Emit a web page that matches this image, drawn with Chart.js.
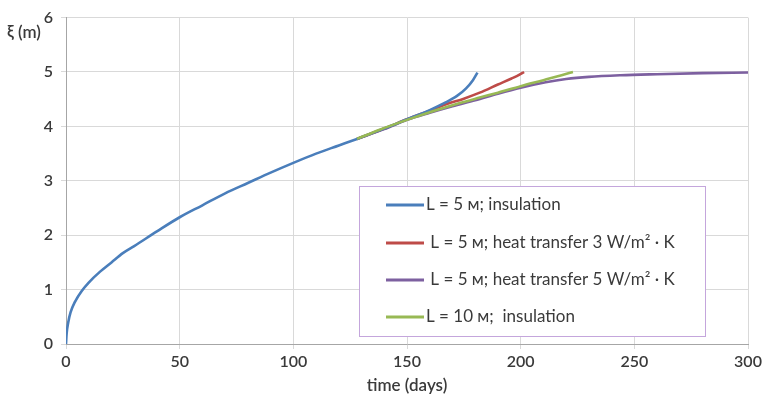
<!DOCTYPE html>
<html>
<head>
<meta charset="utf-8">
<script src="https://cdn.jsdelivr.net/npm/chart.js@4/dist/chart.umd.min.js"></script>
<style>
html,body{margin:0;padding:0;background:#fff;}
#wrap{width:763px;height:396px;position:relative;}
</style>
</head>
<body>
<div id="wrap"><canvas id="c"></canvas></div>
<script>
// ---- data ----
const seriesLabels = [
  "L = 5 м; insulation",
  " L = 5 м; heat transfer 3 W/m\u00b2 \u00b7 K",
  " L = 5 м; heat transfer 5 W/m\u00b2 \u00b7 K",
  "L = 10 м;  insulation"
];
const blueX = [0, 0.3, 1, 2, 4, 7, 10, 15, 20, 25, 30, 40, 50, 60, 70, 80, 90, 100, 110, 120, 128, 140, 150, 160, 167, 172, 176, 179, 181];
const blueY = [0, 0.2, 0.4, 0.58, 0.78, 0.98, 1.13, 1.33, 1.5, 1.67, 1.8, 2.07, 2.33, 2.55, 2.77, 2.96, 3.15, 3.33, 3.5, 3.65, 3.77, 3.96, 4.13, 4.3, 4.44, 4.56, 4.7, 4.85, 4.99];
const redX = [128, 140, 150, 160, 167.5, 175, 182, 190, 196, 199.5, 201.5];
const redY = [3.77, 3.96, 4.13, 4.29, 4.41, 4.51, 4.62, 4.77, 4.88, 4.95, 5.0];
const purpleX = [128, 140, 150, 160, 170, 180, 190, 200, 211, 220, 230, 244, 260, 280, 300];
const purpleY = [3.77, 3.95, 4.12, 4.25, 4.37, 4.48, 4.60, 4.71, 4.81, 4.87, 4.91, 4.94, 4.96, 4.98, 4.99];
const greenX = [128, 138, 150, 160, 170, 182, 190, 200, 210, 218, 223];
const greenY = [3.77, 3.94, 4.12, 4.26, 4.39, 4.53, 4.62, 4.74, 4.85, 4.94, 5.0];
const xTickValues = [0, 50, 100, 150, 200, 250, 300];
const yTickValues = [0, 1, 2, 3, 4, 5, 6];
const xTitle = "time (days)";
const yTitle = "\u03be (m)";

const colors = ["#4a7ebb", "#be4b48", "#7d60a0", "#98b954"];
const FONT = "Lato, 'Open Sans', sans-serif";
const TEXT = "#3a3a3a";

function pts(xs, ys){ return xs.map((x,i)=>({x:x, y:ys[i]})); }

const datasets = [
  {label: seriesLabels[0], data: pts(blueX, blueY), borderColor: colors[0], order: 1},
  {label: seriesLabels[1], data: pts(redX, redY), borderColor: colors[1], order: 2},
  {label: seriesLabels[2], data: pts(purpleX, purpleY), borderColor: colors[2], order: 3},
  {label: seriesLabels[3], data: pts(greenX, greenY), borderColor: colors[3], order: 0}
].map(d => Object.assign(d, {borderWidth: 2.6, pointRadius: 0, tension: 0.4, cubicInterpolationMode: 'monotone', fill: false}));

const extras = {
  id: 'extras',
  afterDraw(chart){
    const ctx = chart.ctx;
    ctx.save();
    // y title
    ctx.font = "600 17px " + FONT;
    ctx.fillStyle = TEXT;
    ctx.textAlign = "left";
    ctx.textBaseline = "middle";
    ctx.fillText(yTitle, 7, 33);
    // legend box
    const bx = 359.5, by = 186.5, bw = 346, bh = 150;
    ctx.fillStyle = "#ffffff";
    ctx.fillRect(bx, by, bw, bh);
    ctx.strokeStyle = "#c4a6dc";
    ctx.lineWidth = 1;
    ctx.strokeRect(bx, by, bw, bh);
    const rows = [205, 243, 280, 317];
    chart.data.datasets.forEach((ds, i) => {
      const y = rows[i];
      ctx.strokeStyle = ds.borderColor;
      ctx.lineWidth = 3;
      ctx.beginPath();
      ctx.moveTo(386, y);
      ctx.lineTo(424, y);
      ctx.stroke();
      ctx.fillStyle = TEXT;
      ctx.font = "17px " + FONT;
      ctx.textBaseline = "middle";
      ctx.fillText(ds.label, 426, y);
    });
    ctx.restore();
  }
};

new Chart(document.getElementById('c'), {
  type: 'line',
  data: {datasets: datasets},
  options: {
    responsive: true,
    maintainAspectRatio: false,
    animation: false,
    layout: {padding: {top: 14, right: 15, left: 0, bottom: 0}},
    plugins: {legend: {display: false}, tooltip: {enabled: false}},
    scales: {
      x: {
        type: 'linear', min: 0, max: 300,
        afterBuildTicks: s => { s.ticks = xTickValues.map(v => ({value: v})); },
        afterFit: s => { s.height = 52; s.paddingRight = 0; },
        ticks: {font: {family: FONT, size: 16, weight: '600'}, color: TEXT, padding: 3, maxRotation: 0},
        grid: {color: "#d9d9d9", lineWidth: 1, tickLength: 5},
        border: {color: "#a6a6a6"},
        title: {display: true, text: xTitle, font: {family: FONT, size: 17, weight: '600'}, color: TEXT, padding: {top: 5, bottom: 0}}
      },
      y: {
        type: 'linear', min: 0, max: 6,
        afterBuildTicks: s => { s.ticks = yTickValues.map(v => ({value: v})); },
        afterFit: s => { s.width = 66; },
        ticks: {font: {family: FONT, size: 16, weight: '600'}, color: TEXT, padding: 8},
        grid: {color: "#d9d9d9", lineWidth: 1, tickLength: 5},
        border: {color: "#a6a6a6"}
      }
    }
  },
  plugins: [extras]
});
</script>
</body>
</html>
